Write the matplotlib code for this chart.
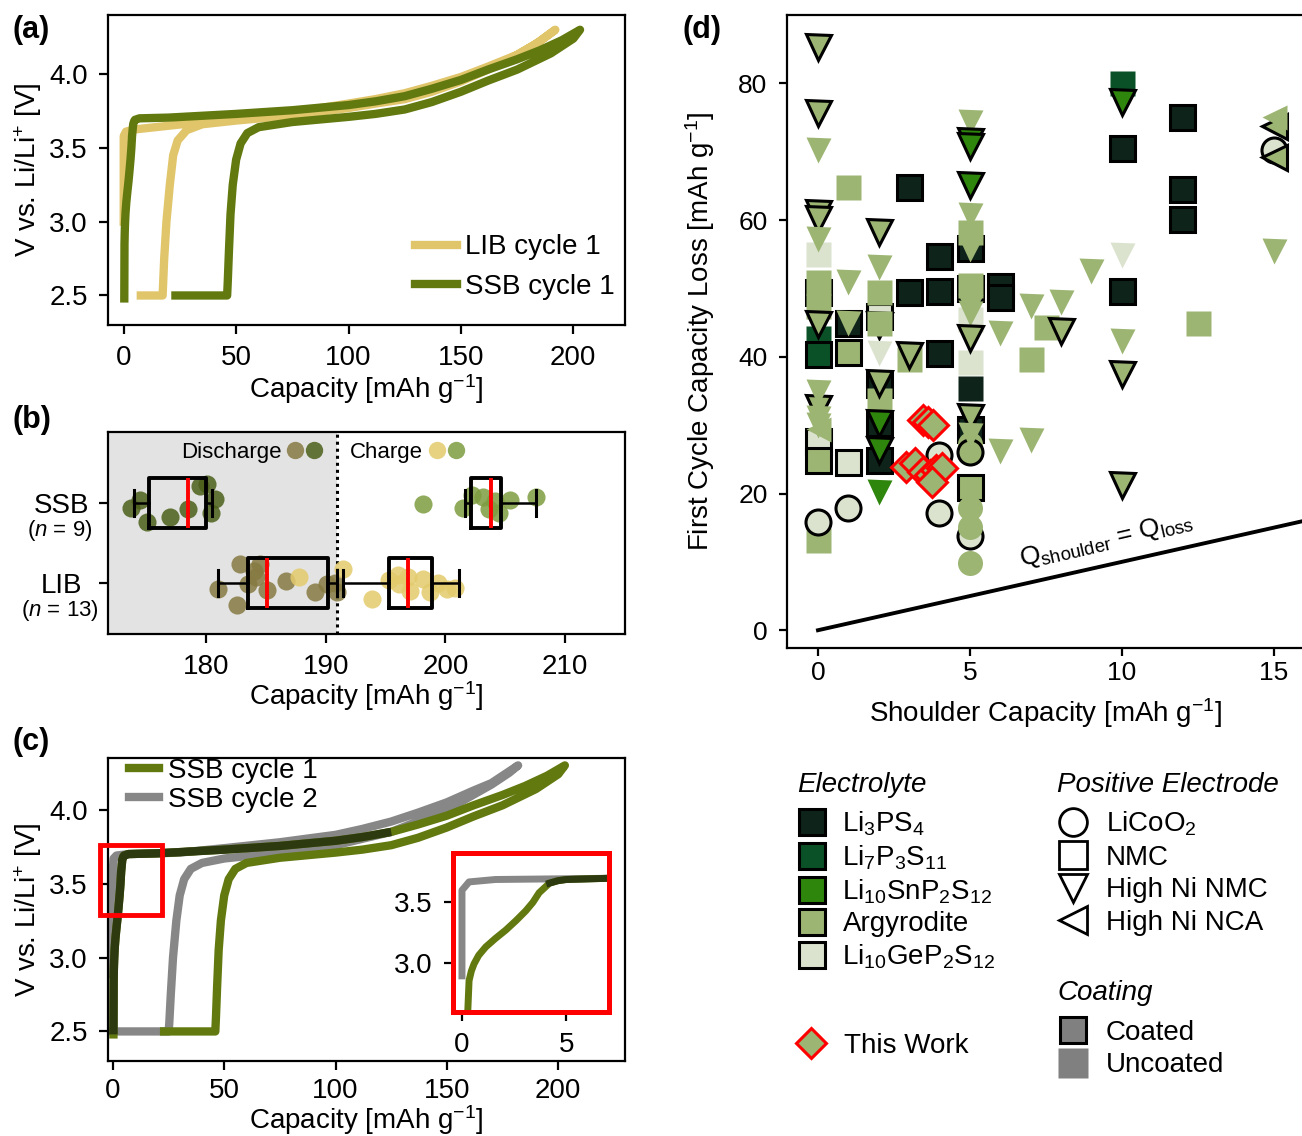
import matplotlib
matplotlib.use('Agg')
import matplotlib.pyplot as plt
from matplotlib.lines import Line2D
from matplotlib.patches import Rectangle
from matplotlib.legend_handler import HandlerTuple
import numpy as np

plt.rcParams['font.family'] = ['Liberation Sans', 'DejaVu Sans']
plt.rcParams['mathtext.fontset'] = 'custom'
plt.rcParams['mathtext.rm'] = 'Liberation Sans'
plt.rcParams['mathtext.it'] = 'Liberation Sans:italic'
plt.rcParams['mathtext.default'] = 'regular'
plt.rcParams['font.size'] = 20
plt.rcParams['axes.linewidth'] = 1.6
for a in ('x', 'y'):
    plt.rcParams[a + 'tick.major.width'] = 1.6
    plt.rcParams[a + 'tick.major.size'] = 6.5
    plt.rcParams[a + 'tick.major.pad'] = 8
    plt.rcParams[a + 'tick.labelsize'] = 20

LIB_COL = '#e0c56b'
SSB_COL = '#62790f'
C2_COL = '#878787'
OVER_COL = '#2d3a10'

# ---- (a)/(c) voltage curves ----
lib_c1_cap = [0, 0, 1, 5, 20, 50, 75, 100, 112, 125, 137, 150, 162, 175, 183, 192,
              185, 175, 162, 150, 137, 125, 112, 100, 75, 50, 35, 28, 24, 22, 20.5, 19, 18, 17.3, 7.6]
lib_c1_v = [3.0, 3.58, 3.61, 3.625, 3.65, 3.70, 3.74, 3.80, 3.83, 3.87, 3.92, 3.98, 4.05, 4.13, 4.20, 4.30,
            4.22, 4.13, 4.03, 3.95, 3.88, 3.83, 3.80, 3.77, 3.72, 3.685, 3.66, 3.62, 3.55, 3.45, 3.25, 3.0, 2.75, 2.5, 2.5]

ssb_c1_cap = [0.25, 0.34, 0.45, 0.58, 0.8, 1.14, 1.6, 2.1, 2.6, 3.06, 3.4, 3.7, 3.95, 4.2, 4.6, 5.0, 7.0,
              20, 50, 75, 100, 112, 125, 137, 150, 162, 175, 185, 195, 203,
              200, 190, 175, 162, 150, 137, 125, 112, 100, 75, 60, 55, 52, 50, 48.5, 47.5, 46.8, 46.3, 46, 23]
ssb_c1_v = [2.48, 2.85, 2.93, 2.99, 3.06, 3.13, 3.20, 3.27, 3.35, 3.43, 3.50, 3.58, 3.62, 3.66, 3.68, 3.69, 3.70,
            3.705, 3.73, 3.755, 3.79, 3.815, 3.85, 3.90, 3.96, 4.03, 4.10, 4.16, 4.23, 4.30,
            4.24, 4.14, 4.03, 3.955, 3.88, 3.81, 3.76, 3.73, 3.71, 3.675, 3.64, 3.60, 3.53, 3.42, 3.25, 3.05, 2.8, 2.6, 2.5, 2.5]

ssb_c2_cap = [0, 0, 0.34, 1.6, 7, 30, 50, 75, 100, 112, 125, 137, 150, 162, 170, 182,
              178, 170, 150, 125, 100, 75, 50, 40, 35, 32, 30, 28.5, 27, 26, 25.3, 25, -0.5]
ssb_c2_v = [2.89, 3.60, 3.67, 3.69, 3.70, 3.71, 3.74, 3.78, 3.83, 3.87, 3.92, 3.98, 4.05, 4.13, 4.18, 4.30,
            4.25, 4.17, 4.00, 3.85, 3.76, 3.71, 3.67, 3.64, 3.60, 3.53, 3.42, 3.25, 3.0, 2.75, 2.55, 2.5, 2.5]

# ---- (b) capacities ----
ssb_dis = [173.7, 174.5, 175.1, 177.0, 178.5, 179.5, 180.1, 180.7, 180.4]
ssb_dis_jit = [-0.06, 0.04, -0.24, -0.18, -0.07, 0.21, 0.24, 0.05, -0.12]
ssb_chg = [198.1, 201.5, 202.2, 203.1, 204.1, 205.4, 207.6, 204.5, 203.6]
ssb_chg_jit = [-0.01, -0.06, 0.10, 0.08, 0.03, 0.04, 0.08, -0.12, -0.08]
lib_dis = [181.0, 182.8, 182.6, 183.5, 184.2, 184.5, 185.1, 186.7, 189.1, 190.1, 190.8, 190.9, 184.0]
lib_dis_jit = [-0.08, 0.24, -0.28, -0.02, 0.07, 0.24, -0.09, 0.03, -0.12, -0.02, 0.0, -0.12, 0.15]
lib_chg = [187.8, 191.4, 193.9, 195.3, 196.0, 196.9, 197.0, 198.1, 198.7, 199.4, 200.1, 200.8, 196.1]
lib_chg_jit = [0.08, 0.18, -0.20, 0.04, 0.10, 0.08, -0.10, 0.05, -0.12, 0.0, -0.08, -0.07, -0.02]
# whislo, q1, median, q3, whishi
ssb_dis_box = [174.0, 175.2, 178.5, 180.0, 180.5]
ssb_chg_box = [201.6, 202.1, 203.8, 204.6, 207.6]
lib_dis_box = [181.0, 183.5, 185.1, 190.2, 190.9]
lib_chg_box = [191.4, 195.3, 196.9, 198.9, 201.1]
split_cap = 190.9

# ---- (d) literature data ----
lit_x = [0, 0, 0, 0, 0, 0, 0, 0, 0,
         1, 1, 1, 1,
         2, 2, 2, 2, 2, 2, 2, 2,
         3, 3, 3,
         4, 4, 4,
         5, 5, 5, 5, 5, 5, 5, 5, 5,
         6, 6, 7, 7.5, 10, 10, 10, 12, 12, 12, 12.5,
         0, 1, 4, 4, 5, 5, 5, 5, 5, 5, 15,
         0, 0, 0, 0, 0, 0, 0, 0, 0,
         1, 1,
         2, 2, 2, 2, 2, 2, 2,
         3,
         5, 5, 5, 5, 5, 5, 5, 5, 5, 5, 5,
         6, 6, 7, 7, 8, 8, 9,
         10, 10, 10, 10, 10, 15,
         0, 0, 0, 15, 15, 15]
lit_y = [55.0, 49.5, 51.0, 47.5, 42.8, 40.4, 27.7, 24.9, 13.2,
         64.8, 45.0, 40.7, 24.6,
         46.0, 44.6, 49.5, 45.0, 36.0, 33.7, 30.3, 24.9,
         64.8, 49.5, 39.7,
         54.7, 49.6, 40.5,
         55.9, 58.2, 50.0, 50.5, 45.5, 39.3, 35.4, 29.5, 21.0,
         50.4, 48.8, 39.7, 44.4, 80.1, 70.5, 49.6, 75.1, 64.6, 60.2, 45.0,
         15.8, 17.9, 25.6, 17.1, 13.8, 27.3, 26.0, 17.9, 15.1, 9.8, 70.2,
         85.3, 75.6, 70.3, 61.0, 60.2, 57.2, 44.8, 32.5, 30.0,
         50.9, 45.0,
         58.3, 53.2, 40.6, 36.2, 30.3, 26.4, 20.2,
         40.3,
         74.3, 71.5, 70.8, 65.2, 60.8, 55.7, 47.3, 46.4, 42.8, 31.2, 28.5,
         43.5, 26.2, 47.4, 27.8, 48.0, 43.8, 52.6,
         77.3, 54.9, 42.3, 37.5, 21.3, 55.5,
         34.8, 31.0, 29.5, 73.8, 75.1, 69.3]
lit_electrolyte = ['LGPS', 'LPS', 'ARG', 'ARG', 'LPS7', 'LPS7', 'LGPS', 'ARG', 'ARG',
                   'ARG', 'LPS', 'ARG', 'LGPS',
                   'LGPS', 'LGPS', 'ARG', 'ARG', 'LPS', 'ARG', 'LPS', 'LPS',
                   'LPS', 'LPS', 'ARG',
                   'LPS', 'LPS', 'LPS',
                   'LPS', 'ARG', 'LPS', 'ARG', 'LGPS', 'LGPS', 'LPS', 'LPS', 'ARG',
                   'LPS', 'LPS', 'ARG', 'ARG', 'LPS7', 'LPS', 'LPS', 'LPS', 'LPS', 'LPS', 'ARG',
                   'LGPS', 'LGPS', 'LGPS', 'LGPS', 'LGPS', 'ARG', 'ARG', 'ARG', 'ARG', 'ARG', 'LGPS',
                   'ARG', 'ARG', 'ARG', 'ARG', 'ARG', 'ARG', 'ARG', 'ARG', 'ARG',
                   'ARG', 'ARG',
                   'ARG', 'ARG', 'LGPS', 'ARG', 'LSPS', 'LSPS', 'LSPS',
                   'ARG',
                   'ARG', 'LSPS', 'LSPS', 'LSPS', 'ARG', 'ARG', 'ARG', 'ARG', 'ARG', 'ARG', 'ARG',
                   'ARG', 'ARG', 'ARG', 'ARG', 'ARG', 'ARG', 'ARG',
                   'LSPS', 'LGPS', 'ARG', 'ARG', 'ARG', 'ARG',
                   'ARG', 'ARG', 'ARG', 'ARG', 'ARG', 'ARG']
lit_electrode = ['NMC'] * 13 + ['NMC', 'HNMC'] + ['NMC'] * 32 + ['LCO'] * 11 + ['HNMC'] * 45 + ['NCA'] * 6
lit_coated = [0, 1, 0, 0, 0, 1, 1, 1, 0,
              0, 1, 1, 1,
              1, 1, 0, 0, 1, 0, 1, 1,
              1, 1, 0,
              1, 1, 1,
              1, 0, 1, 0, 0, 0, 0, 1, 1,
              1, 1, 0, 0, 0, 1, 1, 1, 1, 1, 0,
              1, 1, 1, 1, 1, 0, 1, 0, 0, 0, 1,
              1, 1, 0, 1, 1, 0, 1, 1, 0,
              0, 0,
              1, 0, 0, 1, 1, 1, 0,
              1,
              0, 1, 1, 1, 0, 0, 0, 0, 1, 1, 0,
              0, 0, 0, 0, 0, 1, 0,
              1, 0, 0, 1, 1, 0,
              0, 0, 0, 1, 0, 1]

this_work_x = [2.9, 3.19, 3.45, 3.68, 3.9, 4.08, 3.75, 3.45, 3.62, 3.78]
this_work_y = [23.9, 24.5, 23.2, 22.7, 23.4, 23.7, 21.7, 30.8, 30.5, 30.0]

elec_colors = {'LPS': '#0e2319', 'LPS7': '#0b5127', 'LSPS': '#2f860c',
               'ARG': '#9cb573', 'LGPS': '#dbe3cf'}
elec_labels = {'LPS': 'Li$_3$PS$_4$', 'LPS7': 'Li$_7$P$_3$S$_{11}$',
               'LSPS': 'Li$_{10}$SnP$_2$S$_{12}$', 'ARG': 'Argyrodite',
               'LGPS': 'Li$_{10}$GeP$_2$S$_{12}$'}
electrode_markers = {'LCO': 'o', 'NMC': 's', 'HNMC': 'v', 'NCA': '<'}
electrode_labels = {'LCO': 'LiCoO$_2$', 'NMC': 'NMC', 'HNMC': 'High Ni NMC', 'NCA': 'High Ni NCA'}

W, H = 1302, 1136
fig = plt.figure(figsize=(W / 100, H / 100), dpi=100)


def box(l, t, r, b):
    return [l / W, 1 - b / H, (r - l) / W, (b - t) / H]


cap_label = 'Capacity [mAh g$^{-1}$]'
v_label = 'V vs. Li/Li$^{+}$ [V]'

# ---------------- (a) ----------------
ax_a = fig.add_axes(box(108, 15, 625, 325))
ax_a.plot(lib_c1_cap, lib_c1_v, color=LIB_COL, lw=6, solid_joinstyle='round', label='LIB cycle 1')
ax_a.plot(ssb_c1_cap, ssb_c1_v, color=SSB_COL, lw=6, solid_joinstyle='round', label='SSB cycle 1')
ax_a.set_xlim(-7, 223)
ax_a.set_ylim(2.3, 4.4)
ax_a.set_xticks([0, 50, 100, 150, 200])
ax_a.set_yticks([2.5, 3.0, 3.5, 4.0])
ax_a.set_xlabel(cap_label, fontsize=20, labelpad=1)
ax_a.set_ylabel(v_label, fontsize=20, labelpad=4)
ax_a.legend(loc='lower right', bbox_to_anchor=(0.98, 0.08), frameon=False, fontsize=20,
            handlelength=1.5, handletextpad=0.3, labelspacing=0.5, borderpad=0, borderaxespad=0)

# ---------------- (b) ----------------
ax_b = fig.add_axes(box(108, 432, 625, 634))
ax_b.set_xlim(171.8, 215)
ax_b.set_ylim(-0.64, 1.89)
ax_b.axvspan(171.8, split_cap, color='#e3e3e3', zorder=0, lw=0)
ax_b.axvline(split_cap, color='black', ls=(0, (1, 1.3)), lw=2.2, zorder=1)
dot_cols = {'lib_dis': '#877a42', 'lib_chg': '#e3cb6c', 'ssb_dis': '#4b5f1a', 'ssb_chg': '#7e9c40'}
for vals, jit, pos, key in [(lib_dis, lib_dis_jit, 0, 'lib_dis'),
                            (lib_chg, lib_chg_jit, 0, 'lib_chg'),
                            (ssb_dis, ssb_dis_jit, 1, 'ssb_dis'),
                            (ssb_chg, ssb_chg_jit, 1, 'ssb_chg')]:
    ax_b.scatter(vals, np.array(jit) + pos, s=170, color=dot_cols[key], alpha=0.85, lw=0, zorder=2)
stats = []
positions = []
for st, pos in [(ssb_dis_box, 1), (ssb_chg_box, 1), (lib_dis_box, 0), (lib_chg_box, 0)]:
    stats.append(dict(whislo=st[0], q1=st[1], med=st[2], q3=st[3], whishi=st[4], fliers=[]))
    positions.append(pos)
ax_b.bxp(stats, positions=positions, widths=0.62, orientation='horizontal', manage_ticks=False,
         showfliers=False, capwidths=0.33, zorder=3,
         boxprops=dict(color='black', lw=2.8), medianprops=dict(color='red', lw=2.8),
         whiskerprops=dict(color='black', lw=1.8), capprops=dict(color='black', lw=2.2))
ax_b.set_xticks([180, 190, 200, 210])
ax_b.set_yticks([0, 1])
ax_b.set_yticklabels(['LIB', 'SSB'], ha='center')
ax_b.tick_params(axis='y', pad=27)
ax_b.set_xlabel(cap_label, fontsize=20, labelpad=-1)
ytr = ax_b.get_yaxis_transform()
ax_b.text(-0.093, 0.66, '($\\it{n}$ = 9)', transform=ytr, ha='center', va='center', fontsize=16)
ax_b.text(-0.093, -0.34, '($\\it{n}$ = 13)', transform=ytr, ha='center', va='center', fontsize=16)


def dot(key):
    return Line2D([], [], ls='', marker='o', ms=12.5, mfc=dot_cols[key], mec='none', alpha=0.85)


ax_b.legend([(dot('lib_dis'), dot('ssb_dis')), (dot('lib_chg'), dot('ssb_chg'))], ['Discharge', 'Charge'],
            handler_map={tuple: HandlerTuple(ndivide=None, pad=0)}, markerfirst=False, ncol=2,
            loc='center left', bbox_to_anchor=(0.141, 0.9), frameon=False, fontsize=16,
            handlelength=1.7, handletextpad=0.2, columnspacing=1.2, borderpad=0, borderaxespad=0)

# ---------------- (c) ----------------
ax_c = fig.add_axes(box(108, 758, 625, 1061))
c1_cap = np.array(ssb_c1_cap)
c1_v = np.array(ssb_c1_v)
turn = int(np.argmax(c1_cap))
chg_cap, chg_v = c1_cap[:turn + 1], c1_v[:turn + 1]
ax_c.plot(ssb_c2_cap, ssb_c2_v, color=C2_COL, lw=6, solid_joinstyle='round', label='SSB cycle 2')
ax_c.plot(c1_cap, c1_v, color=SSB_COL, lw=6, solid_joinstyle='round', label='SSB cycle 1')
over = chg_cap <= 125
ax_c.plot(chg_cap[over], chg_v[over], color=OVER_COL, lw=6, solid_joinstyle='round', solid_capstyle='butt')
ax_c.set_xlim(-2.2, 230)
ax_c.set_ylim(2.3, 4.35)
ax_c.set_xticks([0, 50, 100, 150, 200])
ax_c.set_yticks([2.5, 3.0, 3.5, 4.0])
ax_c.tick_params(axis='x', pad=6)
ax_c.set_xlabel(cap_label, fontsize=20, labelpad=-1)
ax_c.set_ylabel(v_label, fontsize=20, labelpad=4)
h, l = ax_c.get_legend_handles_labels()
ax_c.legend(h[::-1], l[::-1], loc='upper left', bbox_to_anchor=(0.04, 1.0), frameon=False, fontsize=20,
            handlelength=1.1, handletextpad=0.3, labelspacing=0.1, borderpad=0, borderaxespad=0)
ax_c.add_patch(Rectangle((-5.8, 3.29), 27.8, 0.47, fill=False, edgecolor='red', lw=3.5, clip_on=False, zorder=5))

ax_in = fig.add_axes(box(453, 853, 609, 1012))
ax_in.plot(ssb_c2_cap, ssb_c2_v, color=C2_COL, lw=5, solid_joinstyle='round')
ax_in.plot(c1_cap, c1_v, color=SSB_COL, lw=5, solid_joinstyle='round')
over_in = (chg_v >= 3.64) & (chg_cap <= 125)
ax_in.plot(chg_cap[over_in], chg_v[over_in], color=OVER_COL, lw=5, solid_joinstyle='round')
ax_in.set_xlim(-0.43, 7.05)
ax_in.set_ylim(2.59, 3.91)
ax_in.set_xticks([0, 5])
ax_in.set_yticks([3.0, 3.5])
for sp in ax_in.spines.values():
    sp.set_color('red')
    sp.set_linewidth(3.6)

# ---------------- (d) ----------------
ax_d = fig.add_axes(box(787, 15, 1304, 648))
ax_d.set_xlim(-1.02, 16)
ax_d.set_ylim(-2.6, 90)
ax_d.spines['right'].set_visible(False)
for i, (x, y, el, ed, co) in enumerate(zip(lit_x, lit_y, lit_electrolyte, lit_electrode, lit_coated)):
    ax_d.plot([x], [y], ls='', marker=electrode_markers[ed], ms=18, mfc=elec_colors[el],
              mec='black' if co else 'none', mew=2.2, zorder=3 + i * 0.01)
ax_d.plot(this_work_x, this_work_y, ls='', marker='D', ms=15.5, mfc=elec_colors['ARG'],
          mec='red', mew=2.2, zorder=5)
diag = [0, 16]
ax_d.plot(diag, diag, color='black', lw=2.8, zorder=2)
ax_d.text(6.7, 9.4, 'Q$_{shoulder}$ = Q$_{loss}$', rotation=13, rotation_mode='anchor',
          ha='left', va='baseline', fontsize=19)
ax_d.set_xticks([0, 5, 10, 15])
ax_d.set_yticks([0, 20, 40, 60, 80])
ax_d.tick_params(labelsize=19, length=6)
ax_d.tick_params(axis='x', pad=3.5)
ax_d.set_xlabel('Shoulder Capacity [mAh g$^{-1}$]', fontsize=20, labelpad=8)
ax_d.set_ylabel('First Cycle Capacity Loss [mAh g$^{-1}$]', fontsize=20, labelpad=15)

# legends for (d)
title_style = dict(fontsize=20, style='italic', ha='left', va='center')
fig.text(797 / W, 1 - 785 / H, 'Electrolyte', **title_style)
fig.text(1057 / W, 1 - 785 / H, 'Positive Electrode', **title_style)
fig.text(1057 / W, 1 - 993 / H, 'Coating', **title_style)
common = dict(frameon=False, fontsize=20, borderpad=0, borderaxespad=0, loc='upper left')
el_keys = ['LPS', 'LPS7', 'LSPS', 'ARG', 'LGPS']
el_h = [Line2D([], [], ls='', marker='s', ms=19, mfc=elec_colors[k], mec='black', mew=2.2) for k in el_keys]
fig.legend(el_h, [elec_labels[k] for k in el_keys], bbox_to_anchor=(798 / W, 1 - 810 / H),
           handlelength=1.0, handletextpad=0.6, labelspacing=0.19, **common)
ed_keys = ['LCO', 'NMC', 'HNMC', 'NCA']
ed_h = [Line2D([], [], ls='', marker=electrode_markers[k], ms=20, mfc='white', mec='black', mew=2.0) for k in ed_keys]
fig.legend(ed_h, [electrode_labels[k] for k in ed_keys], bbox_to_anchor=(1059 / W, 1 - 810 / H),
           handlelength=1.0, handletextpad=0.68, labelspacing=0.23, **common)
co_h = [Line2D([], [], ls='', marker='s', ms=19, mfc='#808080', mec='black', mew=2.2),
        Line2D([], [], ls='', marker='s', ms=21, mfc='#808080', mec='none')]
fig.legend(co_h, ['Coated', 'Uncoated'], bbox_to_anchor=(1059 / W, 1 - 1020 / H),
           handlelength=1.0, handletextpad=0.68, labelspacing=0.23, **common)
tw_h = [Line2D([], [], ls='', marker='D', ms=15.5, mfc=elec_colors['ARG'], mec='red', mew=2.2)]
fig.legend(tw_h, ['This Work'], bbox_to_anchor=(797 / W, 1 - 1033 / H),
           handlelength=1.0, handletextpad=0.7, **common)

# panel labels
for lab, px, py in [('(a)', 12, 30), ('(b)', 12, 420), ('(c)', 12, 742), ('(d)', 683, 30)]:
    fig.text(px / W, 1 - py / H, lab, fontsize=22, fontweight='bold', ha='left', va='center')

fig.savefig('out.png', dpi=100)
